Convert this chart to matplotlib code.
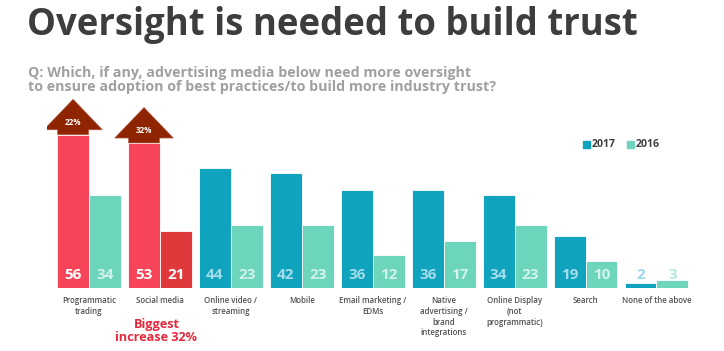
import matplotlib
matplotlib.use("Agg")
import matplotlib.pyplot as plt
from matplotlib.patches import Polygon, Rectangle
import numpy as np

categories = ["Programmatic\ntrading", "Social media", "Online video /\nstreaming", "Mobile",
              "Email marketing /\nEDMs", "Native\nadvertising /\nbrand\nintegrations",
              "Online Display\n(not\nprogrammatic)", "Search", "None of the above"]
v2017 = [56, 53, 44, 42, 36, 36, 34, 19, 2]
v2016 = [34, 21, 23, 23, 12, 17, 23, 10, 3]
arrow_labels = {0: "22%", 1: "32%"}
series = ["2017", "2016"]

TEAL = "#10a3bd"
MINT = "#6dd5bb"
RED = "#f84458"
DRED = "#e0393b"
ARROW = "#8f2400"

plt.rcParams['font.family'] = ['Open Sans', 'DejaVu Sans']

fig = plt.figure(figsize=(7.24, 3.51), dpi=100)
W, H = 724, 351
ax = fig.add_axes([46.5 / W, (H - 288) / H, (699 - 46.5) / W, (288 - 91) / H])
ax.set_xlim(-0.6, 8.6)
ax.set_ylim(0, 72)
ax.axis("off")

bw = 0.45
x = np.arange(len(categories))
c17 = [RED if i in arrow_labels else TEAL for i in x]
c16 = [DRED if i == 1 else MINT for i in x]
ax.bar(x - bw / 2, v2017, width=bw, color=c17, edgecolor="white", linewidth=0.6)
ax.bar(x + bw / 2, v2016, width=bw, color=c16, edgecolor="white", linewidth=0.6)

# arrows on top of highlighted bars
for i, lab in arrow_labels.items():
    b = v2017[i]
    cx = i - bw / 2
    hw = bw / 2 - 0.005
    s = 1.8
    pts = [[cx - hw, b], [cx + hw, b], [cx + hw, b + s], [cx + 0.415, b + s],
           [cx, b + s + 11.2], [cx - 0.415, b + s], [cx - hw, b + s]]
    ax.add_patch(Polygon(pts, closed=True, facecolor=ARROW, edgecolor="#b86a55",
                         linewidth=0.4, zorder=3))
    ax.text(cx, b + s + 2.6, lab, ha="center", va="center", color="white",
            fontsize=5.8, fontweight="bold", zorder=4)

# value labels
for i in x:
    for off, vals, col in ((-bw / 2, v2017, c17[i]), (bw / 2, v2016, c16[i])):
        v = vals[i]
        if col in (RED, DRED):
            tc = "white"
        elif col == TEAL:
            tc = "#a3ddeb"
        else:
            tc = "#d2f3eb"
        if v < 8:
            tc = "#9ad8ea" if off < 0 else "#b3e9dc"
        ax.text(i + off, 4.6, str(v), ha="center", va="center", color=tc,
                fontsize=11, fontweight="bold")

# category labels
for i, c in enumerate(categories):
    ax.text(i, -3.0, c, ha="center", va="top", fontsize=5.7, color="#505050",
            fontweight="semibold", linespacing=1.25)

ax.text(0.95, -10.8, "Biggest\nincrease 32%", ha="center", va="top",
        fontsize=9.1, color="#e8283c", fontweight="bold", linespacing=1.05)

# legend
for lx, col, lab in ((583, TEAL, "2017"), (627, MINT, "2016")):
    fig.patches.append(Rectangle((lx / W, (H - 148) / H), 7 / W, 7 / H,
                                 transform=fig.transFigure, color=col))
    fig.text((lx + 9) / W, (H - 144.5) / H, lab, ha="left", va="center",
             fontsize=7.6, fontweight="bold", color="#3f3f3f")

fig.text(27 / W, (H - 25) / H, "Oversight is needed to build trust", ha="left",
         va="center", fontsize=26.3, fontweight="bold", color="#3d3d3d")
fig.text(28 / W, (H - 80) / H,
         "Q: Which, if any, advertising media below need more oversight\n"
         "to ensure adoption of best practices/to build more industry trust?",
         ha="left", va="center", fontsize=10.3, fontweight="bold", color="#a0a0a0",
         family=['Liberation Sans Narrow', 'Open Sans', 'DejaVu Sans'], linespacing=1.0)

fig.savefig("out.png", dpi=100, facecolor="white")
